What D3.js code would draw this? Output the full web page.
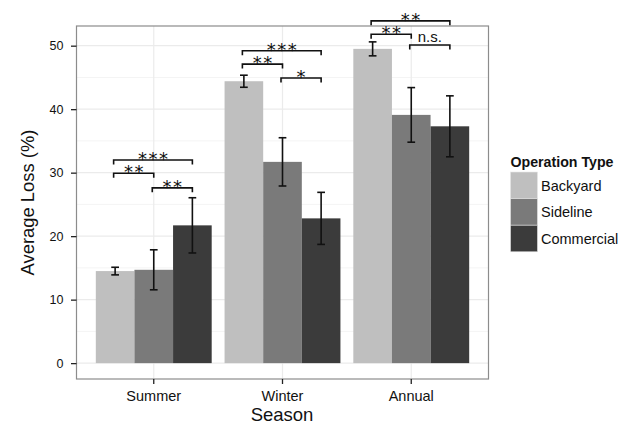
<!DOCTYPE html>
<html>
<head>
<meta charset="utf-8">
<script src="https://cdn.jsdelivr.net/npm/d3@7"></script>
<style>
  body { margin: 0; background: #fff; }
  text { font-family: "Liberation Sans", Arial, sans-serif; fill: #111; }
</style>
</head>
<body>
<svg width="620" height="423"></svg>
<script>
// data
let seasons = ["Summer", "Winter", "Annual"];
let types = ["Backyard", "Sideline", "Commercial"];
let backyard   = [14.5, 44.4, 49.5];
let sideline   = [14.7, 31.7, 39.1];
let commercial = [21.7, 22.8, 37.3];
let backyardErr   = [0.6, 0.95, 1.1];
let sidelineErr   = [3.15, 3.8, 4.3];
let commercialErr = [4.35, 4.1, 4.8];
let yTicks = [0, 10, 20, 30, 40, 50];
// significance brackets: season, from type, to type, height, label
let brackets = [
  ["Summer", "Backyard", "Commercial", 32.0, "***"],
  ["Summer", "Backyard", "Sideline", 29.9, "**"],
  ["Summer", "Sideline", "Commercial", 27.6, "**"],
  ["Winter", "Backyard", "Commercial", 49.2, "***"],
  ["Winter", "Backyard", "Sideline", 47.1, "**"],
  ["Winter", "Sideline", "Commercial", 44.9, "*"],
  ["Annual", "Backyard", "Commercial", 53.9, "**"],
  ["Annual", "Backyard", "Sideline", 51.8, "**"],
  ["Annual", "Sideline", "Commercial", 50.1, "n.s."]
];

let colors = ["#bfbfbf", "#7a7a7a", "#3b3b3b"];

let svg = d3.select('svg');
let pLeft = 76.5, pRight = 488.5, pTop = 26, pBottom = 379;

let x = d3.scaleBand()
    .domain(seasons)
    .range([pLeft, pRight])
    .paddingInner(0.1)
    .paddingOuter(0.15);

let xi = d3.scaleBand()
    .domain(types)
    .range([0, x.bandwidth()]);

let y = d3.scaleLinear()
    .domain([-2.5, 53.1])
    .range([pBottom, pTop]);

let color = d3.scaleOrdinal().domain(types).range(colors);

let rows = [];
seasons.forEach(function (s, i) {
    rows.push({season: s, type: "Backyard", v: backyard[i], e: backyardErr[i]});
    rows.push({season: s, type: "Sideline", v: sideline[i], e: sidelineErr[i]});
    rows.push({season: s, type: "Commercial", v: commercial[i], e: commercialErr[i]});
});

// panel background + grid
svg.append('rect')
    .attr('x', pLeft).attr('y', pTop)
    .attr('width', pRight - pLeft).attr('height', pBottom - pTop)
    .attr('fill', '#fff');

let minor = [5, 15, 25, 35, 45];
svg.append('g').selectAll('line')
    .data(minor).enter().append('line')
    .attr('x1', pLeft).attr('x2', pRight)
    .attr('y1', d => y(d)).attr('y2', d => y(d))
    .attr('stroke', '#f4f4f4').attr('stroke-width', 1);

svg.append('g').selectAll('line')
    .data(yTicks).enter().append('line')
    .attr('x1', pLeft).attr('x2', pRight)
    .attr('y1', d => y(d)).attr('y2', d => y(d))
    .attr('stroke', '#ebebeb').attr('stroke-width', 1.2);

svg.append('g').selectAll('line')
    .data(seasons).enter().append('line')
    .attr('x1', d => x(d) + x.bandwidth() / 2).attr('x2', d => x(d) + x.bandwidth() / 2)
    .attr('y1', pTop).attr('y2', pBottom)
    .attr('stroke', '#ebebeb').attr('stroke-width', 1.2);

// bars
svg.append('g').selectAll('rect')
    .data(rows).enter().append('rect')
    .attr('x', d => x(d.season) + xi(d.type))
    .attr('width', xi.bandwidth())
    .attr('y', d => y(d.v))
    .attr('height', d => y(0) - y(d.v))
    .attr('fill', d => color(d.type));

// error bars
let capW = xi.bandwidth() * 0.1;
let eb = svg.append('g').attr('stroke', '#111').attr('stroke-width', 1.6);
rows.forEach(function (d) {
    let cx = x(d.season) + xi(d.type) + xi.bandwidth() / 2;
    eb.append('line').attr('x1', cx).attr('x2', cx).attr('y1', y(d.v + d.e)).attr('y2', y(d.v - d.e));
    eb.append('line').attr('x1', cx - capW).attr('x2', cx + capW).attr('y1', y(d.v + d.e)).attr('y2', y(d.v + d.e));
    eb.append('line').attr('x1', cx - capW).attr('x2', cx + capW).attr('y1', y(d.v - d.e)).attr('y2', y(d.v - d.e));
});

// panel border
svg.append('rect')
    .attr('x', pLeft).attr('y', pTop)
    .attr('width', pRight - pLeft).attr('height', pBottom - pTop)
    .attr('fill', 'none').attr('stroke', '#8c8c8c').attr('stroke-width', 1.2);

// axes
let yAxis = d3.axisLeft(y).tickValues(yTicks).tickSize(5.5).tickPadding(7.5);
let gy = svg.append('g').attr('transform', 'translate(' + pLeft + ',0)').call(yAxis);
gy.select('.domain').remove();
gy.selectAll('.tick line').attr('stroke', '#222').attr('stroke-width', 1.3);
gy.selectAll('.tick text').style('font-size', '12.5px').attr('fill', '#111')
    .style('font-family', '"Liberation Sans", Arial, sans-serif');

let xAxis = d3.axisBottom(x).tickSize(5).tickPadding(7);
let gx = svg.append('g').attr('transform', 'translate(0,' + pBottom + ')').call(xAxis);
gx.select('.domain').remove();
gx.selectAll('.tick line').attr('stroke', '#222').attr('stroke-width', 1.3);
gx.selectAll('.tick text').style('font-size', '14.5px').attr('fill', '#111')
    .style('font-family', '"Liberation Sans", Arial, sans-serif');

svg.append('text')
    .attr('x', (pLeft + pRight) / 2 - 0.5).attr('y', 420.5)
    .attr('text-anchor', 'middle')
    .style('font-size', '18.5px')
    .text('Season');

svg.append('text')
    .attr('transform', 'translate(33.5,' + ((pTop + pBottom) / 2) + ') rotate(-90)')
    .attr('text-anchor', 'middle')
    .style('font-size', '18.4px')
    .text('Average Loss (%)');

// significance brackets
let tick = 0.7;
let bg = svg.append('g');
brackets.forEach(function (b) {
    let x1 = x(b[0]) + xi(b[1]) + xi.bandwidth() / 2 - 1.5;
    let x2 = x(b[0]) + xi(b[2]) + xi.bandwidth() / 2;
    let yy = y(b[3]);
    bg.append('path')
        .attr('d', 'M' + x1 + ',' + y(b[3] - tick) + 'V' + yy + 'H' + x2 + 'V' + y(b[3] - tick))
        .attr('fill', 'none').attr('stroke', '#111').attr('stroke-width', 1.6);
    let ns = b[4] === 'n.s.';
    bg.append('text')
        .attr('x', (x1 + x2) / 2 + (ns ? 0 : 0.75))
        .attr('y', ns ? yy - 3 : yy + 5)
        .attr('text-anchor', 'middle')
        .style('font-family', ns ? '"Liberation Sans", Arial, sans-serif' : '"DejaVu Sans", sans-serif')
        .style('font-size', ns ? '15px' : '18px')
        .style('letter-spacing', ns ? '0px' : '1.5px')
        .text(b[4]);
});

// legend
let lg = svg.append('g').attr('transform', 'translate(510.5,0)');
lg.append('text')
    .attr('x', 0).attr('y', 166.5)
    .style('font-size', '14.2px').style('font-weight', 'bold')
    .text('Operation Type');
types.forEach(function (t, i) {
    lg.append('rect')
        .attr('x', 0).attr('y', 172 + i * 26.6)
        .attr('width', 27).attr('height', 26.6)
        .attr('fill', color(t))
        .attr('stroke', '#e6e6e6').attr('stroke-width', 0.6);
    lg.append('text')
        .attr('x', 30.5).attr('y', 172 + i * 26.6 + 13.3 + 5.3)
        .style('font-size', '14.5px')
        .text(t);
});
</script>
</body>
</html>
